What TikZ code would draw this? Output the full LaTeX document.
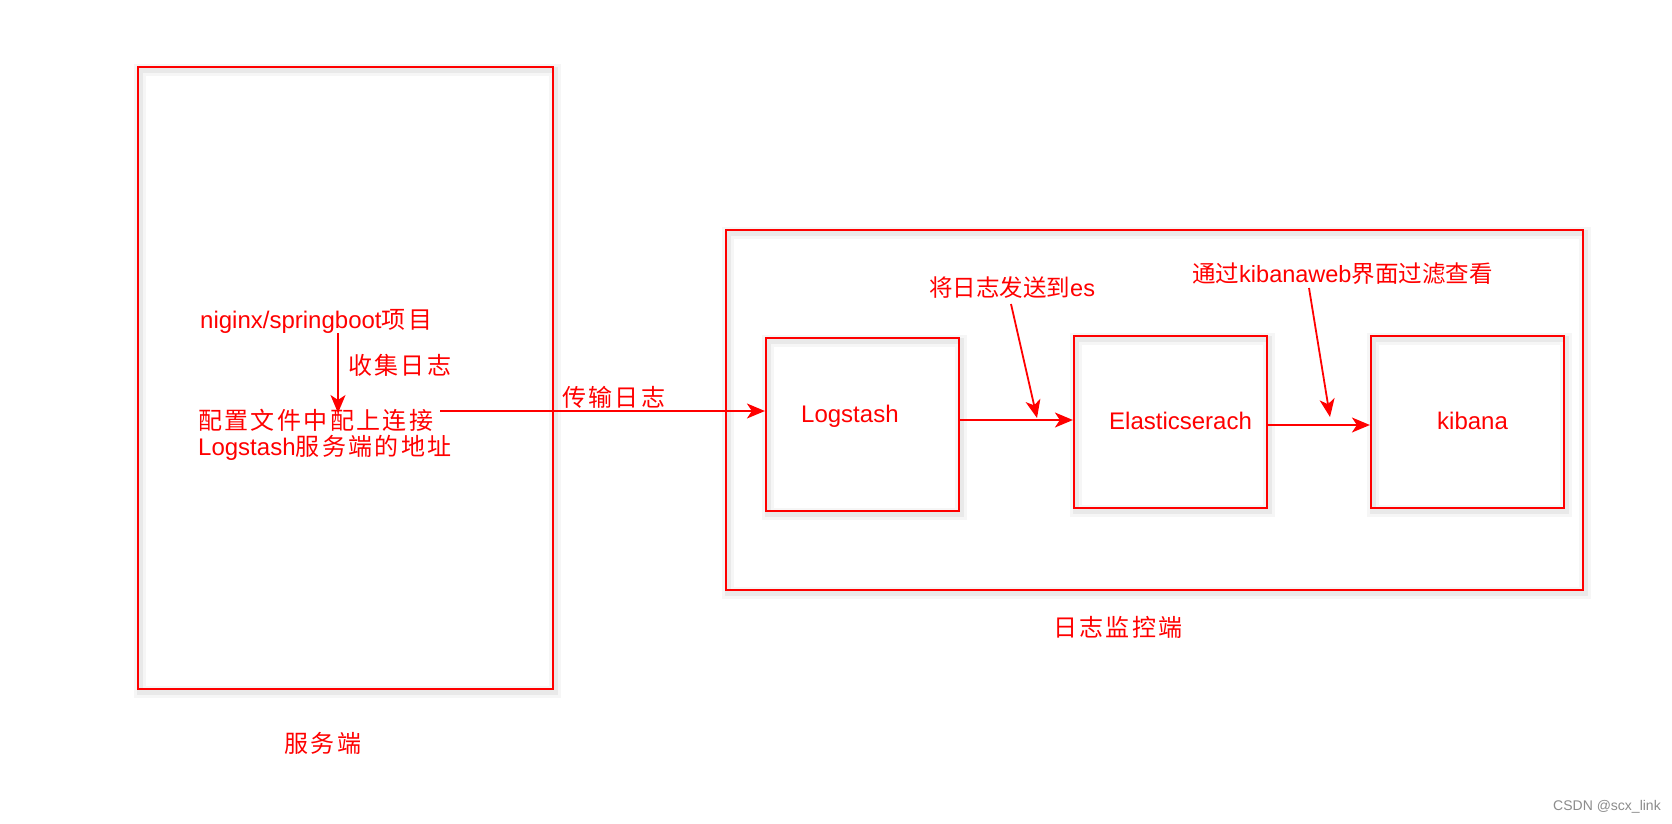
\documentclass[tikz,border=0pt]{standalone}
\usepackage{fontspec}
\setmainfont{Liberation Sans}
\newfontfamily\cjk[LetterSpace=10]{Noto Sans CJK SC}
\newfontfamily\cjkn{Noto Sans CJK SC}
\usetikzlibrary{arrows.meta}
\definecolor{lred}{RGB}{255,0,0}
\tikzset{
  sh/.style={
    preaction={draw=black,draw opacity=0.035,line width=12pt,transform canvas={shift={(2pt,-3pt)}}},
    preaction={draw=black,draw opacity=0.05,line width=6pt,transform canvas={shift={(2pt,-3pt)}}}},
  box/.style={sh,draw=lred,line width=2.2pt,inner sep=0pt},
  arr/.style={draw=lred,line width=1.8pt,-{Stealth[length=18pt,width=15pt,inset=5pt]}},
  txt/.style={text=lred,inner sep=0pt,anchor=west,font=\fontsize{24}{28}\selectfont},
  note/.style={text=lred,inner sep=0pt,anchor=west,font=\fontsize{23.5}{28}\selectfont},
  zh/.style={text=lred,inner sep=0pt,font=\cjk\fontsize{24}{28}\selectfont}
}
\begin{document}
\begin{tikzpicture}[x=1pt,y=-1pt]
\useasboundingbox (0,0) rectangle (1672,823);
\fill[white] (0,0) rectangle (1672,823);
% boxes
\node[box,minimum width=415pt,minimum height=622pt] (srv) at (345.5,378) {};
\node[box,minimum width=857pt,minimum height=360pt] (mon) at (1154.5,410) {};
\node[box,minimum width=193pt,minimum height=173pt] (ls) at (862.5,424.5) {};
\node[box,minimum width=193pt,minimum height=172pt] (es) at (1170.5,422) {};
\node[box,minimum width=193pt,minimum height=172pt] (kb) at (1467.5,422) {};
% texts in server box
\node[txt] (t1) at (200,321) {niginx/springboot{\cjk 项目}};
\node[zh,anchor=west] (collect) at (348,365) {收集日志};
\node[txt] (t2a) at (198,420) {{\cjk 配置文件中配上连接}};
\node[txt] (t2b) at (198,448) {Logstash{\cjk 服务端的地址}};
\coordinate (c1) at (338,333);
\coordinate (c2) at (338,413);
\draw[arr] (c1) -- (c2);
% transfer
\coordinate (h1) at (440,411);
\draw[arr] (h1) -- (h1 -| ls.west);
\node[zh,anchor=west] (trans) at (562,397) {传输日志};
% inner labels
\node[txt] (lsl) at (801,416) {Logstash};
\node[txt] (esl) at (1109,421) {Elasticserach};
\node[txt] (kbl) at (1437,421) {kibana};
% connectors
\draw[arr] ([yshift=4.5pt]ls.east) -- ([yshift=4.5pt]ls.east -| es.west);
\draw[arr] ([yshift=-3pt]es.east) -- ([yshift=-3pt]es.east -| kb.west);
% annotations
\node[note] (n1) at (929,288) {{\cjkn 将日志发送到}es};
\coordinate (a1) at (1011,304);
\coordinate (a2) at (1037,418);
\draw[arr] (a1) -- (a2);
\node[note] (n2) at (1192,274) {{\cjkn 通过}kibanaweb{\cjkn 界面过滤查看}};
\coordinate (b1) at (1309,288);
\coordinate (b2) at (1330,417);
\draw[arr] (b1) -- (b2);
% captions
\node[zh] (cap2) at (1118,627) {日志监控端};
\node[zh] (cap1) at (323,743) {服务端};
\node[inner sep=0pt,text=black!45,font=\fontsize{14}{16}\selectfont] (wm) at (1607,807) {CSDN @scx\_link};
\end{tikzpicture}
\end{document}
